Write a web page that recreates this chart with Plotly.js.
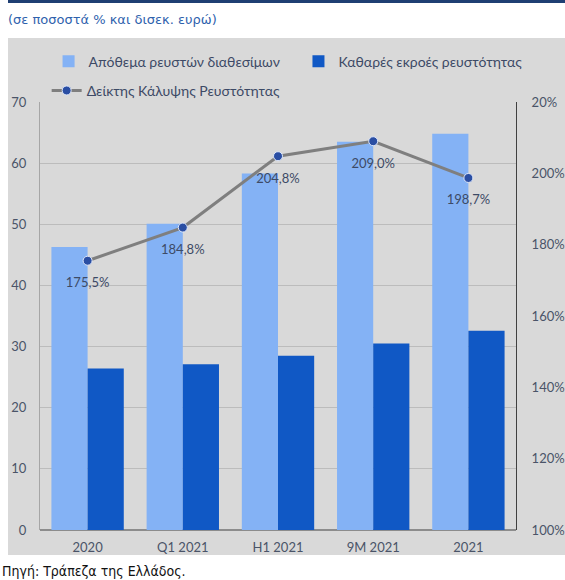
<!DOCTYPE html>
<html>
<head>
<meta charset="utf-8">
<script src="https://cdn.plot.ly/plotly-3.0.1.min.js"></script>
<style>
  html, body { margin:0; padding:0; background:#ffffff; width:565px; height:580px; overflow:hidden; }
  #topbar { position:absolute; left:8px; top:0; width:557px; height:3px; background:#1f3f73; }
  #subtitle { position:absolute; left:8px; top:12px; font-family:"DejaVu Sans", sans-serif; font-size:13px; color:#2f62ad; white-space:nowrap; }
  #chart { position:absolute; left:8px; top:38px; width:557px; height:517px; }
  #source { position:absolute; left:2px; top:563px; font-family:"Liberation Sans Narrow","DejaVu Sans Condensed",sans-serif; font-size:14px; color:#111; white-space:nowrap; }
</style>
</head>
<body>
<div id="topbar"></div>
<div id="subtitle">(σε ποσοστά % και δισεκ. ευρώ)</div>
<div id="chart"></div>
<div id="source">Πηγή: Τράπεζα της Ελλάδος.</div>
<script>
const categories = ["2020", "Q1 2021", "H1 2021", "9M 2021", "2021"];
const liquidAssets = [46.3, 50.1, 58.3, 63.5, 64.8];
const netOutflows = [26.4, 27.1, 28.5, 30.5, 32.6];
const coverageRatio = [175.5, 184.8, 204.8, 209.0, 198.7];
const seriesNames = ["Απόθεμα ρευστών διαθεσίμων", "Καθαρές εκροές ρευστότητας", "Δείκτης Κάλυψης Ρευστότητας"];
const leftTicks = [0, 10, 20, 30, 40, 50, 60, 70];
const rightTickVals = [100, 120, 140, 160, 180, 200, 220];
const rightTickText = ["100%", "120%", "140%", "160%", "180%", "200%", "20%"];

const FONT = "Lato, 'Open Sans', sans-serif";
const TXT = "#4a5468";
const LEG = "#3d4a66";

const traces = [
  { type:"bar", name:seriesNames[0], x:categories, y:liquidAssets, marker:{color:"#84b2f5"}, legend:"legend", hoverinfo:"skip" },
  { type:"bar", name:seriesNames[1], x:categories, y:netOutflows, marker:{color:"#1058c5"}, legend:"legend2", hoverinfo:"skip" },
  { type:"scatter", mode:"lines+markers", name:seriesNames[2], x:categories, y:coverageRatio, yaxis:"y2",
    line:{color:"#7f7f7f", width:3}, marker:{color:"#2a4ea3", size:9, line:{color:"#dfe8fa", width:1}},
    legend:"legend3", hoverinfo:"skip" },
  { type:"scatter", mode:"markers+text", x:categories, y:coverageRatio, yaxis:"y2", showlegend:false,
    marker:{color:"rgba(0,0,0,0)", size:25},
    texttemplate:"%{y:.1f}%", textposition:"bottom center", textfont:{family:FONT, size:13, color:"#3d4a66"},
    hoverinfo:"skip" }
];

const legendBase = {orientation:"h", xanchor:"left", yanchor:"middle", bgcolor:"rgba(0,0,0,0)",
                    font:{family:FONT, size:14, color:LEG}, itemwidth:30};

const layout = {
  width:557, height:517,
  margin:{l:32, r:49, t:63.5, b:25, autoexpand:false},
  paper_bgcolor:"#d9d9d9", plot_bgcolor:"#d9d9d9",
  separators:",.",
  barmode:"group", bargap:0.24, bargroupgap:0,
  font:{family:FONT, size:13, color:TXT},
  showlegend:true,
  legend:Object.assign({}, legendBase, {x:0.018, y:1.094}),
  legend2:Object.assign({}, legendBase, {x:0.543, y:1.094}),
  legend3:Object.assign({}, legendBase, {x:0.014, y:1.026}),
  xaxis:{type:"category", showgrid:false, showline:false, zeroline:false, ticks:"", automargin:false,
         tickfont:{family:FONT, size:13, color:TXT}, ticklabelstandoff:8, fixedrange:true},
  yaxis:{range:[0,70], tickvals:leftTicks, showgrid:true, gridcolor:"#bcbcbc", gridwidth:1,
         showline:true, linecolor:"#a6a6a6", linewidth:1, zeroline:true, zerolinecolor:"#8c8c8c", zerolinewidth:2,
         ticks:"", automargin:false, ticklabelstandoff:10, tickfont:{family:FONT, size:13, color:TXT}, fixedrange:true},
  yaxis2:{range:[100,220], overlaying:"y", side:"right", tickvals:rightTickVals, ticktext:rightTickText,
          showgrid:false, zeroline:false, showline:true, linecolor:"#404040", linewidth:1, ticks:"",
          automargin:false, ticklabelstandoff:12, tickfont:{family:FONT, size:13, color:TXT}, fixedrange:true}
};

Plotly.newPlot("chart", traces, layout, {displayModeBar:false, staticPlot:true});
</script>
</body>
</html>
